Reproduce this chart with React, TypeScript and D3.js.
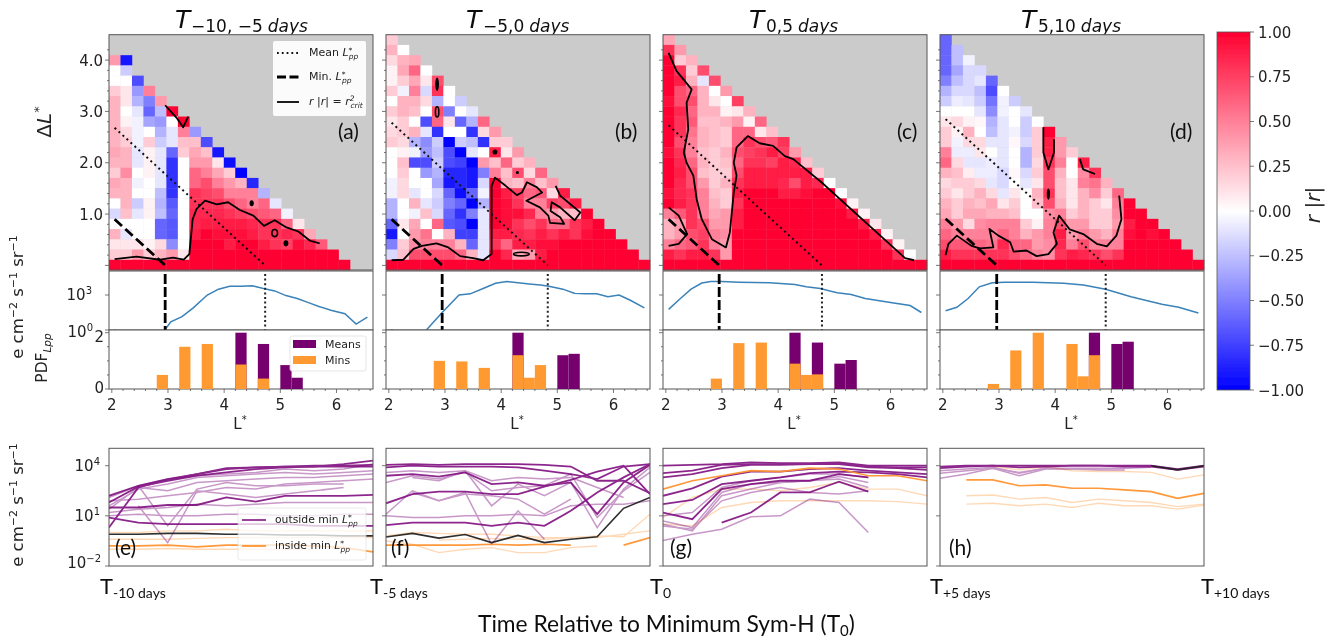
import React from "react";
import * as d3 from "d3";

const heatA: number[][] = [
  [4,0,0,2,3,3,3,3,3,3.5,3,2,3.5,3,0,-1.5,0,3,1,2,10],
  [-9,-2,0,1,1,0,0.5,1.5,2,3,3,4.5,3,3,3,2.5,0,-1,1,2,10],
  [-7,-4,-3,-1,-0.5,-0.5,-0.5,-1,-1,0,-0.5,0,-2,-1,0,0,1,4,10],
  [5,-5,-6,-3.5,0,2,0.5,0.5,0.5,0,0,0.5,0.5,0,0,0.5,2,10],
  [4,-2.5,-4,-3,-2,-1,-1,-1,-1,-2.5,-3,-2.5,-6,-6,1.5,3,10],
  [10,0,-1,-1,-6,-8,-8,-8,-8,-6.5,-6,-6.5,-6.5,-4.5,4,10],
  [10,5,2.5,2,0,0,0,0,0,0,0,0,0,1,10],
  [-4,2.5,3.5,4,6,6,8,8,8.5,8.5,9,10,10,10],
  [-7,2.5,4,5,7,7.5,8,8.5,9,10,10,10,10],
  [-9,1,3.5,5,7,8,8.5,9,9.5,10,10,10],
  [-9.5,2,4,5,7,8,9,9.5,9,10,10],
  [-10,3,5,6,7.5,9,9.5,10,10,10],
  [-8.5,5,5,7,8.5,9,10,10,10],
  [-3,6,6.5,8,8,9,10,10],
  [-1,6,8,8,8,10,10],
  [-0.5,6,8.5,7.5,10,10],
  [1,8,9.5,10,10],
  [3.5,8.5,10,10],
  [6.5,10,10],
  [10,10],
  [10],
];

const heatB: number[][] = [
  [2,3,1.5,0.5,0.5,2,0,2,1,1.5,2,0,0,0,-0.5,-0.5,-3,-3,-6,-9,-5,-1.5,10],
  [0,3,3.5,2,-0.5,3,3,2,2,1.5,0.5,2.5,2,1.5,1.5,0,0,1,0,2,2.5,10],
  [3.5,6,3.5,5,3,2.5,0,3,-3,-0.5,-7,0,0,-1,3,-0.5,3.5,4,4.5,7,10],
  [0,1,-1.5,1.5,0,-7,-1,-4.5,-4,-7,-4,0,0,-1,2.5,0,5.5,5,7,10],
  [7,8,-3,7,6,-8,-2,-2.5,-2,-3,-3.5,-1.5,-2,-1.5,6,0,5,7,10],
  [0,0,-5,1,0,-10,-7,-7,-8.5,-9,-6,-5,-6,-6.5,3,5,7,10],
  [-2,0,-6,0,-2,-10,-7.5,-8.5,-8.5,-9.5,-6,-8,-7,-7.5,3,6,10],
  [-1,-3,-8,-2.5,-1,-10,-9,-9,-6,-10,-5,-10,-7.5,-6,3,10],
  [6,1.5,-8,0,4,-5,-1.5,-0.5,-3,-1,-1,-1,-1,-1,10],
  [4,2,9,2.5,5,10,10,10,10,10,9,8,10,10],
  [2,1,6,2.5,3,9,9.5,9.5,9.5,9,6,8.5,10],
  [4,2,7,2.5,7.5,8,9.5,8,8.5,9,3.5,10],
  [3,1.5,5,6,5,8.5,7,8,9,4,10],
  [6,2.5,6.5,5,5,8,9,9.5,9,10],
  [4,1.5,7.5,4,6,8,9.5,10,10],
  [9,7,3,6,9,10,10,10],
  [9,2.5,8,8,10,10,10],
  [10,9,9.5,10,10,10],
  [10,10,10,10,10],
  [10,10,10,10],
  [10,10,10],
  [10,10],
  [10],
];

const heatC: number[][] = [
  [3.5,8,10,10,10,10,9.5,10,10,10,10,9.5,10,10,10,9.5,10,5,3,3,5,9,10],
  [4,2,8,9,7,7,8.5,8,8,7,8,8.5,9,8.5,8.5,9,6.5,4,4,6,8,10],
  [3,2,3,6,7,6,6.5,5.5,5,5,6,7,7,8,8,8,8,7,6.5,9,10],
  [7,-1,3,3,3,2.5,3,3,2.5,3,2.5,4,5,5,5,7,7.5,8,9,10],
  [7,0,1,3,2.5,2.5,2.5,2,2,2,2,2.5,3,3.5,4,5,5,8,10],
  [4,0,0.5,3,2,2,3,2.5,2,3,2,2,4,4,4.5,4,4,10],
  [7.5,1,4,6,6,7,6,7,8,9,8,9,9,10,10,10,10],
  [3,0.5,6,8,7.5,8,9,9,10,10,10,10,10,10,10,10],
  [6,1,7,8,8,9,9,10,10,10,10,10,10,10,10],
  [2.5,6.5,9,7.5,9,9,10,10,10,10,10,10,10,10],
  [8,7.5,9,9,8.5,9,10,10,10,10,10,10,10],
  [4,8.5,9,7,9,10,10,10,10,10,10,10],
  [2.5,9,9,9.5,10,10,10,10,10,10,10],
  [2,8.5,10,10,10,10,10,10,10,10],
  [0,10,10,10,10,10,10,10,10],
  [0,9.5,10,10,10,10,10,10],
  [0.5,9,10,10,10,10,10],
  [0.5,9,10,10,10,10],
  [1,9,10,10,10],
  [0.5,8,10,10],
  [0.5,8,10],
  [0,10],
  [10],
];

const heatD: number[][] = [
  [-6,-6,-6,-6,-5,-3,-2,0,1,2,2,5,6,3,1.5,2,3,3.5,5,6,7,9,10],
  [-2.5,-2.5,-3.5,-2.5,-1.5,-0.7,0,1.5,0.5,-0.5,-0.7,1.5,2.5,2,1,2,2,4,5,6.5,8,10],
  [-0.5,-1.5,-1.5,-1.5,-1,0,0.5,3,1.5,-0.7,-1,0.7,2,2,3,3.5,1.5,5,6.5,8,10],
  [-1.5,-1,-2.5,-2,-1,0.3,0,1.5,1,-1,-0.7,1.5,3,2.5,3.5,4.5,5,6,8,10],
  [-6,-7,-5.5,-4.5,-3,-2.5,-1,0,-0.7,-0.7,-1,1.5,3.5,3,5,5,5.5,8,10],
  [0,-0.5,-0.5,-1,-1,-1,-1,-1,-1.5,-1.5,-1,1,3,5,6,8.5,8,10],
  [-2,0,0,-0.5,0.3,0,0,0.3,0,1,2,2.5,5,5,6,7,10],
  [-1,-2,-2,-1.5,-3,-3,-1.5,-1,0,0,0,2,3,6,6,10],
  [0,2,2,2,1.5,2,1,3,2.5,0,0.5,4,4,5,10],
  [10,9,9,8,7,7,8,7,4.5,5,5,4.5,4.5,10],
  [4,4,5,3,2.5,2.5,3,5,7,9,8.5,8,10],
  [2,0,0,1,1,1,2,4,4,5,9,10],
  [9,4.5,5,3,3,3,4,5,7,8.5,10],
  [8,5.5,4.5,2,2,2,4,5,8,10],
  [3,2,1,2,2,3,5,7,10],
  [6,5,4.5,4,5,5,8,10],
  [10,10,9,9.5,10,10,10],
  [10,10,10,10,10,10],
  [10,9.5,10,10,10],
  [10,10,10,10],
  [10,10,10],
  [10,10],
  [10],
];

const contourA1 = [[2.05,.12],[2.44,.17],[2.86,.11],[3.09,.15],[3.28,.11],[3.38,.22],[3.44,.90],[3.51,1.10],[3.66,1.26],[3.87,1.19],[4.07,1.23],[4.28,1.08],[4.52,.97],[4.71,.77],[4.90,.88],[5.11,.74],[5.32,.66],[5.53,.48],[5.70,.43]];
const contourA2 = [[2.95,3.12],[3.15,2.88],[3.27,2.69],[3.36,2.90]];
const contourB1 = [[2.05,.10],[2.26,.11],[2.44,.32],[2.59,.38],[2.85,.43],[3.06,.35],[3.27,.18],[3.50,.14],[3.68,.10],[3.83,.22],[3.83,1.55],[3.89,1.71],[4.07,1.56],[4.28,1.37],[4.37,1.42],[4.46,1.62],[4.64,1.52],[4.73,1.42],[4.45,1.26],[4.69,1.13],[4.84,.97],[4.87,.83],[5.12,.81],[5.05,.94],[4.88,1.06],[4.90,1.23],[5.05,1.13],[5.31,.88],[5.41,1.03],[5.16,1.26],[5.05,1.36],[4.97,1.55]];
const contourC1 = [[2.05,4.14],[2.19,3.79],[2.46,3.43],[2.37,3.17],[2.40,2.65],[2.32,2.20],[2.37,2.0],[2.49,1.75],[2.55,1.29],[2.64,.90],[2.82,.51],[3.07,.35],[3.14,.64],[3.21,1.42],[3.26,1.75],[3.21,2.0],[3.26,2.30],[3.46,2.52],[3.67,2.38],[3.91,2.33],[4.12,2.13],[4.27,2.07],[4.77,1.62],[6.26,.14],[6.42,.10]];
const contourC2 = [[2.05,1.13],[2.23,.97],[2.38,.61],[2.23,.42],[2.05,.38]];
const contourD1 = [[2.05,.20],[2.10,.42],[2.25,.58],[2.51,.38],[2.66,.33],[2.90,.35],[2.83,.71],[2.99,.58],[3.20,.45],[3.26,.27],[3.49,.29],[3.67,.18],[3.88,.22],[4.03,.42],[3.97,.64],[4.07,.97],[4.26,.70],[4.50,.61],[4.74,.42],[4.92,.37],[5.09,.58],[5.18,.90],[5.14,1.36]];
const contourD2 = [[3.79,2.69],[3.79,2.20],[3.88,1.87],[3.98,2.20],[3.98,2.46]];
const contourD3 = [[4.44,2.07],[4.50,1.87],[4.71,1.78]];

// [L, dL, half width, half height] of the small closed contours
const islandsFilledA = [[4.49,1.21,.02,.05],[5.10,.43,.025,.05]];
const islandsOpenA = [[4.90,.63,.05,.07]];
const islandsFilledB = [[2.86,3.53,.015,.12],[3.89,2.21,.025,.04],[4.29,1.81,.01,.02]];
const islandsOpenB = [[2.86,2.99,.03,.1],[4.36,.22,.14,.035]];
const islandsFilledD = [[3.88,1.39,.012,.1]];

const lppMean = [4.73, 4.83, 4.78, 4.9];
const lppMin = [2.95, 2.95, 2.95, 2.96];

const fluxA = [[2.05,.05],[2.1,-.2],[2.9,-.2],[2.95,.05],[3.05,.7],[3.25,1.15],[3.45,1.9],[3.7,3.0],[3.9,3.5],[4.1,3.75],[4.3,3.75],[4.5,3.8],[4.7,3.55],[4.9,3.35],[5.1,2.95],[5.3,2.7],[5.5,2.35],[5.7,2.0],[5.9,1.7],[6.15,1.4],[6.35,.5],[6.55,1.1]];
const fluxB = [[2.05,.05],[2.1,-.2],[2.65,-.1],[2.95,1.5],[3.25,3.0],[3.45,3.1],[3.7,3.6],[3.9,4.0],[4.1,4.15],[4.3,4.05],[4.5,3.95],[4.7,3.85],[4.85,3.75],[5.1,3.5],[5.3,3.15],[5.5,3.1],[5.7,3.1],[5.9,2.85],[6.1,3.0],[6.3,2.55],[6.55,1.9]];
const fluxC = [[2.05,1.77],[2.26,2.7],[2.45,3.5],[2.64,4.03],[2.8,4.15],[3,4.15],[3.3,4.1],[3.85,4.05],[4.3,3.9],[4.5,3.7],[4.75,3.55],[5.05,3.2],[5.3,3.05],[5.55,2.7],[6,2.35],[6.35,2.1],[6.55,1.5]];
const fluxD = [[2.05,1.65],[2.25,1.95],[2.45,2.7],[2.65,3.7],[2.88,4.05],[3.1,4.1],[3.6,4.1],[4.15,4.0],[4.5,3.85],[4.9,3.5],[5.35,2.85],[5.9,2.2],[6.2,1.95],[6.55,1.45]];

// [bin start, density]
const meansA = [[4.2,2],[4.6,1.6],[5.0,.85],[5.2,.4]];
const minsA = [[2.8,.5],[3.2,1.5],[3.6,1.6],[4.2,.87],[4.6,.37]];
const meansB = [[4.2,2],[5.0,1.2],[5.2,1.25]];
const minsB = [[2.8,1],[3.2,.98],[3.6,.75],[4.2,1.2],[4.4,.4],[4.6,.85]];
const meansC = [[4.2,2],[4.6,1.65],[5.0,.9],[5.2,1.03]];
const minsC = [[2.8,.37],[3.2,1.63],[3.6,1.65],[4.2,.9],[4.4,.5],[4.6,.52]];
const meansD = [[4.6,2],[5.0,1.6],[5.2,1.68]];
const minsD = [[2.8,.18],[3.2,1.37],[3.6,2],[4.2,1.6],[4.4,.45],[4.6,1.2]];

// log10 flux per time step
const purpleStrongE = [
  [2.2,2.8,3.2,3.5,3.85,3.9,3.95,4.0,4.0,4.05],
  [1.8,2.75,3.1,3.4,3.6,3.8,3.9,3.95,4.1,4.3],
  [.3,2.7,3.15,3.5,3.8,3.9,3.95,3.95,3.95,3.95],
  [1.5,1.5,1.65,1.65,2.1,1.85,2.2,2.2,2.2,2.25],
  [.9,.6,.5,.5,.5,.5,.5,.4,.4,.4],
];
const purpleMidE = [
  [2.1,2.8,3.2,3.4,3.5,3.6,3.8,3.7,3.8,4.1],
  [1.6,2.6,2.9,3.3,3.4,3.5,3.6,3.5,3.6,3.7],
  [1.4,2.7,2.5,3.0,3.1,3.2,3.3,3.3,3.4,3.5],
  [null,2.8,.4,2.6,3.0,2.8,2.8,2.9,2.9,null],
  [null,1.6,-.6,2.5,2.3,2.1,2.3,2.5,2.7,null],
  [1.9,2.0,2.2,2.4,2.7,2.6,2.9,3.0,3.1,3.2],
  [1.2,1.4,1.5,1.7,1.6,1.7,1.8,1.8,1.8,1.8],
  [1.0,1.1,1.0,1.0,1.1,1.1,1.0,1.0,1.1,1.1],
];
const orangeStrongE = [[-.8,-.8,-.75,-.85,-.75,-.75,-.75,-.8,-.9,-1.15]];
const orangePaleE = [[-.4,-.4,-.4,-.35,-.3,-.3,-.3,-.3,-.3,-.3],[-1,-1,-.95,-1,-1,-1,-1,-1,null,null],[0,0,.1,.1,.2,.1,.1,.1,.1,.1]];
const blackE = [[-.1,-.1,-.05,-.05,-.1,-.1,-.15,-.15,-.2,-.2]];

const purpleStrongF = [
  [4.05,4.1,4.05,4.1,4.1,4.1,4.05,3.95,3.1,3.1,2.35],
  [3.9,4.0,3.95,3.95,3.95,3.9,3.7,3.5,3.2,3.95,4.1],
  [3.4,3.5,3.35,3.6,2.9,3.0,2.8,3.0,1.1,3.0,4.05],
  [1.75,2.3,2.45,2.45,2.3,2.3,2.75,3.15,3.65,4.0,2.3],
  [.45,.6,.6,.6,.4,.6,.4,1.3,2.4,3.3,4.1],
];
const purpleMidF = [
  [3.0,3.4,3.2,3.6,2.5,2.7,2.8,3.5,.9,2.5,3.6],
  [null,3.3,3.1,3.7,1.6,2.9,2.2,3.0,.3,2.6,3.9],
  [1.1,2.5,1.9,2.3,2.2,2.0,1.1,2.0,null,null,null],
  [1.0,.9,.9,1.0,1.0,1.1,1.0,1.6,1.7,1.7,1.9],
  [null,2.4,1.9,2.4,-.7,1.3,-.4,null,null,null,null],
  [3.6,3.7,3.6,3.7,3.1,3.3,3.2,3.3,2.7,2.1,null],
];
const orangeStrongF = [[-.75,-.75,-.75,-.75,-.7,-.75,-.7,-.75,null,-.75,-.3]];
const orangePaleF = [[-.2,0,-.05,-.1,-.1,-.2,-.3,-.3,-.2,-.25,1.1],[-.5,-.7,-1.2,-1,-.9,-1.2,-1.2,-.9,-.8,null,null],[null,null,-.45,-.4,-.35,-.4,-.4,-.3,-.3,-.1,.1]];
const blackF = [[-.27,-.05,-.33,-.12,-.6,-.17,-.6,-.4,-.25,1.45,2.1]];

const purpleStrongG = [
  [4.0,4.05,4.1,4.2,4.15,4.15,4.2,4.0,4.0,4.0],
  [3.55,3.7,4.05,4.1,4.1,4.1,4.15,3.95,3.9,3.9],
  [3.3,3.5,3.85,4.05,4.05,4.1,4.1,3.9,3.85,3.75],
  [2.2,2.65,3.35,3.65,3.65,3.8,3.85,3.7,3.6,3.5],
  [1.7,1.95,2.9,3.1,3.3,3.55,3.65,3.6,3.5,3.3],
  [1.2,.8,2.6,2.9,3.1,3.1,3.5,3.3,null,null],
  [null,null,.6,1.2,2.4,2.4,3.05,2.45,null,null],
];
const purpleMidG = [
  [.7,.3,2.4,2.9,3.0,3.1,3.35,3.0,null,null],
  [.5,.1,2.2,2.6,3.0,3.1,3.2,2.7,null,null],
  [1.0,1.2,2.7,3.1,3.3,3.5,3.5,3.3,null,null],
  [.4,.2,1.9,2.4,2.7,2.4,2.3,2.5,null,null],
  [-.47,-.1,.2,.95,1.0,2.0,1.8,0,null,null],
];
const orangeStrongG = [[2.6,3.1,3.4,3.7,3.65,3.85,3.8,3.4,3.4,3.1]];
const orangePaleG = [[.9,2.1,2.6,2.6,2.5,2.7,3.0,2.6,2.6,2.2],[.5,.4,1.5,1.8,1.9,1.9,1.9,1.9,1.85,1.7]];
const blackG: number[][] = [];

const purpleStrongH = [
  [3.95,4.0,4.0,4.0,4.0,4.0,4.0,4.0,4.0,3.8,4.0],
  [3.85,3.95,4.0,3.9,3.95,4.0,4.0,3.95,3.95,3.75,3.95],
];
const purpleMidH = [
  [3.7,3.8,3.9,3.55,3.85,3.8,3.75,3.75,null,null,null],
  [3.55,3.7,3.85,3.4,3.8,3.8,3.8,3.85,3.9,null,null],
  [3.25,3.5,3.85,3.6,3.85,3.85,3.85,3.85,null,null,null],
];
const orangeStrongH = [[null,3.15,3.15,2.8,2.85,2.65,2.65,2.55,2.45,2.05,2.35]];
const orangePaleH = [[null,2.2,2.25,2.0,2.1,1.8,2.0,1.9,1.8,1.55,1.7],[null,1.7,1.75,1.6,1.7,1.5,1.75,1.6,1.6,1.4,1.65],[null,null,3.95,3.75,3.95,3.7,3.65,3.65,3.6,3.2,3.45]];
const blackH = [[null,null,null,null,null,null,null,null,4.0,3.75,4.0]];

const heatTicks = [1, 2, 3, 4];
const lTicks = [2, 3, 4, 5, 6];
const cbarTicks = [1, .75, .5, .25, 0, -.25, -.5, -.75, -1];
const titleSubs = ["−10, −5", "−5,0", "0,5", "5,10"];
const panelLetters = ["(a)", "(b)", "(c)", "(d)"];
const lowLetters = ["(e)", "(f)", "(g)", "(h)"];
const timeLabels = ["-10 days", "-5 days", "0", "+5 days", "+10 days"];

const PANELS = [
  { left: 109, titleX: 175, subX: 191, letterX: 338, lowLetterX: 115, heat: heatA, contours: [contourA1, contourA2], filled: islandsFilledA, open: islandsOpenA, flux: fluxA, means: meansA, mins: minsA, pS: purpleStrongE, pM: purpleMidE, oS: orangeStrongE, oP: orangePaleE, bk: blackE },
  { left: 386, titleX: 466, subX: 483, letterX: 615, lowLetterX: 391, heat: heatB, contours: [contourB1], filled: islandsFilledB, open: islandsOpenB, flux: fluxB, means: meansB, mins: minsB, pS: purpleStrongF, pM: purpleMidF, oS: orangeStrongF, oP: orangePaleF, bk: blackF },
  { left: 663, titleX: 749, subX: 766, letterX: 897, lowLetterX: 670, heat: heatC, contours: [contourC1, contourC2], filled: [], open: [], flux: fluxC, means: meansC, mins: minsC, pS: purpleStrongG, pM: purpleMidG, oS: orangeStrongG, oP: orangePaleG, bk: blackG },
  { left: 940, titleX: 1021, subX: 1038, letterX: 1170, lowLetterX: 949, heat: heatD, contours: [contourD1, contourD2, contourD3], filled: islandsFilledD, open: [], flux: fluxD, means: meansD, mins: minsD, pS: purpleStrongH, pM: purpleMidH, oS: orangeStrongH, oP: orangePaleH, bk: blackH },
];

const W = 264;
const HEAT_TOP = 34.7, HEAT_BOT = 270;
const LINE_TOP = 271, LINE_BOT = 330, HIST_BOT = 389, LOW_TOP = 448.3, LOW_BOT = 566;
const SPINE = "#555";
const SANS = "'DejaVu Sans', sans-serif";
const HUMAN = "Lato, 'Open Sans', sans-serif";
const PURPLE = "#7d0a7d";
const ORANGE = "#ff9430";

const color = d3.scaleLinear<string>().domain([-1, 0, 1]).range(["#0000ff", "#ffffff", "#ff0030"]);
const xL = d3.scaleLinear().domain([1.95, 6.65]).range([0, W]);
const yD = d3.scaleLinear().domain([-0.09, 4.495]).range([HEAT_BOT, HEAT_TOP]);
const yFlux = d3.scaleLinear().domain([0, 3]).range([LINE_BOT, 295]);
const yHist = d3.scaleLinear().domain([0, 2]).range([HIST_BOT, 332.7]);
const yLow = d3.scaleLinear().domain([-2, 4]).range([LOW_BOT, 465.7]);
const cbar = d3.scaleLinear().domain([-1, 1]).range([390, 32]);
const colBand = d3.scaleBand<number>().domain(d3.range(23)).range([0, W]);
const rowBand = d3.scaleBand<number>().domain(d3.range(23)).range([HEAT_BOT, HEAT_TOP]);

const path = d3.line<number[]>().x((d) => xL(d[0])).y((d) => yD(d[1]));
const fluxPath = d3.line<number[]>().x((d) => xL(d[0])).y((d) => yFlux(d[1]));

function Flux({ x, y }: { x: number; y: number }) {
  return (
    <text transform={`translate(${x},${y}) rotate(-90)`} textAnchor="middle" fontFamily={SANS} fontSize={16.5} fill="#222">
      e cm<tspan dy={-6} fontSize={11}>−2</tspan><tspan dy={6}> s</tspan><tspan dy={-6} fontSize={11}>−1</tspan><tspan dy={6}> sr</tspan><tspan dy={-6} fontSize={11}>−1</tspan>
    </text>
  );
}

function LogLabel({ x, y, exp }: { x: number; y: number; exp: string }) {
  return (
    <text x={x} y={y + 5} textAnchor="end" fontFamily={SANS} fontSize={15} fill="#222">
      10<tspan dy={-6} fontSize={10}>{exp}</tspan>
    </text>
  );
}

function LowLines({ rows, stroke, width, opacity, left }: { rows: (number | null)[][]; stroke: string; width: number; opacity: number; left: number }) {
  return (
    <g fill="none" stroke={stroke} strokeWidth={width} opacity={opacity}>
      {rows.map((row, i) => {
        const x = d3.scaleLinear().domain([0, row.length - 1]).range([left, left + W]);
        const ln = d3.line<number | null>().defined((v) => v !== null).x((_, j) => x(j)).y((v) => yLow(v as number));
        return <path key={i} d={ln(row) || ""} />;
      })}
    </g>
  );
}

function Panel({ p, index }: { p: (typeof PANELS)[number]; index: number }) {
  const left = p.left;
  const id = `c${index}`;
  const mean = lppMean[index], min = lppMin[index];
  const labelled = index === 0;
  return (
    <g>
      {/* title */}
      <text x={p.titleX} y={28} fontFamily={SANS} fontSize={25} fontStyle="italic" fill="#111">T</text>
      <text x={p.subX} y={32} fontFamily={SANS} fontSize={17} fill="#111">
        {titleSubs[index]}<tspan dx={5} fontStyle="italic">days</tspan>
      </text>

      <clipPath id={`${id}b`}><rect x={left} y={LINE_TOP} width={W} height={LINE_BOT - LINE_TOP} /></clipPath>
      <clipPath id={`${id}c`}><rect x={left} y={LOW_TOP} width={W} height={LOW_BOT - LOW_TOP} /></clipPath>

      {/* heat map */}
      <rect x={left} y={HEAT_TOP} width={W} height={HEAT_BOT - HEAT_TOP} fill="#cbcbcb" />
      {p.heat.map((col, k) =>
        col.map((v, i) => {
          const r = col.length - 1 - i;
          return (
            <rect key={`${k}-${i}`} x={left + (colBand(k) as number)} y={rowBand(r) as number}
              width={colBand.bandwidth() + 0.3} height={rowBand.bandwidth() + 0.3} fill={color(v / 10)} />
          );
        })
      )}
      <g transform={`translate(${left},0)`}>
        <line x1={xL(2.05)} x2={xL(mean)} y1={yD(mean - 2.05)} y2={yD(0)} stroke="#111" strokeWidth={2} strokeDasharray="2 3.4" />
        <line x1={xL(2.05)} x2={xL(min)} y1={yD(min - 2.05)} y2={yD(0)} stroke="#000" strokeWidth={2.8} strokeDasharray="10 4.5" />
        {p.contours.map((c, i) => (
          <path key={i} d={path(c) || ""} fill="none" stroke="#000" strokeWidth={1.8} strokeLinejoin="round" />
        ))}
        {p.filled.map((d, i) => (
          <ellipse key={i} cx={xL(d[0])} cy={yD(d[1])} rx={xL(d[0] + d[2]) - xL(d[0]) + 1} ry={yD(d[1] - d[3]) - yD(d[1]) + 0.5} fill="#000" />
        ))}
        {p.open.map((d, i) => (
          <ellipse key={i} cx={xL(d[0])} cy={yD(d[1])} rx={xL(d[0] + d[2]) - xL(d[0])} ry={yD(d[1] - d[3]) - yD(d[1])} fill="none" stroke="#000" strokeWidth={1.6} />
        ))}
      </g>
      <rect x={left} y={HEAT_TOP} width={W} height={HEAT_BOT - HEAT_TOP} fill="none" stroke={SPINE} strokeWidth={1} />
      {d3.range(0, 4.4, 0.2).map((v) => (
        <line key={v} x1={left - (Math.abs(v % 1) < 0.01 || Math.abs(v % 1) > 0.99 ? 4 : 2)} x2={left} y1={yD(v)} y2={yD(v)} stroke={SPINE} strokeWidth={0.8} />
      ))}
      {labelled && heatTicks.map((v) => (
        <text key={v} x={left - 6} y={yD(v) + 5.5} textAnchor="end" fontFamily={SANS} fontSize={15} fill="#222">{v.toFixed(1)}</text>
      ))}
      <text x={p.letterX} y={139} fontFamily={HUMAN} fontSize={21} fill="#111">{panelLetters[index]}</text>

      {/* flux profile */}
      <rect x={left} y={LINE_TOP} width={W} height={LINE_BOT - LINE_TOP} fill="#fff" stroke={SPINE} strokeWidth={1} />
      <g clipPath={`url(#${id}b)`}>
        <path transform={`translate(${left},0)`} d={fluxPath(p.flux) || ""} fill="none" stroke="#3a82b8" strokeWidth={1.5} />
      </g>
      <line x1={left + xL(min)} x2={left + xL(min)} y1={274} y2={LINE_BOT} stroke="#000" strokeWidth={2.8} strokeDasharray="10 3" />
      <line x1={left + xL(mean)} x2={left + xL(mean)} y1={274} y2={LINE_BOT} stroke="#222" strokeWidth={2} strokeDasharray="2 2.6" />
      {[0, 3].map((v) => <line key={v} x1={left - 4} x2={left} y1={yFlux(v)} y2={yFlux(v)} stroke={SPINE} strokeWidth={0.8} />)}
      {labelled && (<g><LogLabel x={92} y={295} exp="3" /><LogLabel x={93} y={332} exp="0" /></g>)}

      {/* histogram */}
      <rect x={left} y={LINE_BOT} width={W} height={HIST_BOT - LINE_BOT} fill="#fff" stroke={SPINE} strokeWidth={1} />
      {p.means.map((d, i) => (
        <rect key={i} x={left + xL(d[0])} width={xL(d[0] + .2) - xL(d[0])} y={yHist(d[1])} height={HIST_BOT - yHist(d[1])} fill="#76056e" />
      ))}
      {p.mins.map((d, i) => (
        <rect key={i} x={left + xL(d[0])} width={xL(d[0] + .2) - xL(d[0])} y={yHist(d[1])} height={HIST_BOT - yHist(d[1])} fill="#ff9a33" />
      ))}
      {d3.range(0, 2.01, 0.5).map((v) => (
        <line key={v} x1={left - (v % 2 === 0 ? 4 : 2)} x2={left} y1={yHist(v)} y2={yHist(v)} stroke={SPINE} strokeWidth={0.8} />
      ))}
      {d3.range(2, 6.61, 0.2).map((v) => {
        const major = Math.abs(v - Math.round(v)) < 0.01;
        return <line key={v} x1={left + xL(v)} x2={left + xL(v)} y1={HIST_BOT} y2={HIST_BOT + (major ? 4 : 2)} stroke={SPINE} strokeWidth={0.8} />;
      })}
      {lTicks.map((v) => (
        <text key={v} x={left + xL(v)} y={410} textAnchor="middle" fontFamily={SANS} fontSize={15} fill="#222">{v}</text>
      ))}
      <text x={left + W / 2 - 1} y={429} textAnchor="middle" fontFamily={SANS} fontSize={15} fill="#222">L<tspan dy={-6} fontSize={10}>*</tspan></text>
      {labelled && (
        <g fontFamily={SANS} fontSize={15} fill="#222" textAnchor="end">
          <text x={104} y={393}>0</text>
          <text x={104} y={342}>2</text>
        </g>
      )}

      {/* flux time series */}
      <rect x={left} y={LOW_TOP} width={W} height={LOW_BOT - LOW_TOP} fill="#fff" />
      <g clipPath={`url(#${id}c)`}>
        <LowLines rows={p.oP} stroke={ORANGE} width={1.4} opacity={0.35} left={left} />
        <LowLines rows={p.pM} stroke={PURPLE} width={1.5} opacity={0.42} left={left} />
        <LowLines rows={p.pS} stroke={PURPLE} width={1.8} opacity={0.88} left={left} />
        <LowLines rows={p.oS} stroke={ORANGE} width={1.7} opacity={0.95} left={left} />
        <LowLines rows={p.bk} stroke="#222" width={1.6} opacity={0.95} left={left} />
      </g>
      <rect x={left} y={LOW_TOP} width={W} height={LOW_BOT - LOW_TOP} fill="none" stroke={SPINE} strokeWidth={1} />
      {[-2, 1, 4].map((v) => <line key={v} x1={left - 4} x2={left} y1={yLow(v)} y2={yLow(v)} stroke={SPINE} strokeWidth={0.8} />)}
      {labelled && (<g><LogLabel x={100} y={466} exp="4" /><LogLabel x={100} y={516} exp="1" /><LogLabel x={101} y={563} exp="−2" /></g>)}
      <text x={p.lowLetterX} y={555} fontFamily={HUMAN} fontSize={21} fill="#111">{lowLetters[index]}</text>
    </g>
  );
}

export default function App() {
  React.useEffect(() => { document.body.style.margin = "0"; }, []);
  const stops = d3.range(0, 1.001, 0.05);
  return (
    <svg width={1334} height={640} viewBox="0 0 1334 640" style={{ position: "absolute", left: 0, top: 0, background: "#fff" }}>
      <defs>
        <filter id="soft" x="0" y="0" width="1334" height="640" filterUnits="userSpaceOnUse">
          <feGaussianBlur stdDeviation="0.45" />
        </filter>
        <linearGradient id="cb" x1="0" y1="1" x2="0" y2="0">
          {stops.map((s) => <stop key={s} offset={s} stopColor={color(s * 2 - 1)} />)}
        </linearGradient>
      </defs>
      <rect width={1334} height={640} fill="#fff" />
      <g filter="url(#soft)">
        {PANELS.map((p, i) => <Panel key={i} p={p} index={i} />)}

        {/* top legend */}
        <g>
          <rect x={273} y={41} width={93} height={75} rx={2} fill="#fff" opacity={0.92} />
          <line x1={277} x2={299} y1={53} y2={53} stroke="#111" strokeWidth={1.8} strokeDasharray="1.8 3" />
          <line x1={277} x2={299} y1={77} y2={77} stroke="#000" strokeWidth={2.8} strokeDasharray="9 3.5" />
          <line x1={277} x2={299} y1={102} y2={102} stroke="#000" strokeWidth={1.8} />
          <text fontFamily={SANS} fontSize={11} fill="#222">
            <tspan x={309} y={56}>Mean </tspan><tspan fontStyle="italic" dy={0}>L</tspan><tspan fontSize={7.5} dy={-3.5}>*</tspan><tspan fontSize={7.5} dx={-3.5} dy={6} fontStyle="italic">pp</tspan>
          </text>
          <text fontFamily={SANS} fontSize={11} fill="#222">
            <tspan x={309} y={80}>Min. </tspan><tspan fontStyle="italic">L</tspan><tspan fontSize={7.5} dy={-3.5}>*</tspan><tspan fontSize={7.5} dx={-3.5} dy={6} fontStyle="italic">pp</tspan>
          </text>
          <text x={309} y={105} fontFamily={SANS} fontSize={11} fontStyle="italic" fill="#222">
            r |r| = r<tspan fontSize={7.5} dy={-4}>2</tspan><tspan fontSize={7.5} dx={-4} dy={7}>crit</tspan>
          </text>
        </g>

        {/* histogram legend */}
        <g>
          <rect x={290} y={336} width={76} height={35} rx={2} fill="#fff" stroke="#ddd" strokeWidth={0.8} opacity={0.92} />
          <rect x={293} y={340} width={23} height={8} fill="#76056e" />
          <rect x={293} y={356} width={23} height={8} fill="#ff9a33" />
          <text x={325} y={348} fontFamily={SANS} fontSize={11} fill="#222">Means</text>
          <text x={325} y={364} fontFamily={SANS} fontSize={11} fill="#222">Mins</text>
        </g>

        {/* lower legend */}
        <g>
          <rect x={238} y={508} width={128} height={52} rx={2} fill="#fff" stroke="#ddd" strokeWidth={0.8} opacity={0.75} />
          <line x1={242} x2={266} y1={520} y2={520} stroke={PURPLE} strokeWidth={1.8} opacity={0.85} />
          <line x1={242} x2={266} y1={546} y2={546} stroke={ORANGE} strokeWidth={1.8} />
          <text fontFamily={SANS} fontSize={10.8} fill="#222">
            <tspan x={275} y={523}>outside min </tspan><tspan fontStyle="italic">L</tspan><tspan fontSize={7.5} dy={-3.5}>*</tspan><tspan fontSize={7.5} dx={-3.5} dy={6} fontStyle="italic">pp</tspan>
          </text>
          <text fontFamily={SANS} fontSize={10.8} fill="#222">
            <tspan x={275} y={549}>inside min </tspan><tspan fontStyle="italic">L</tspan><tspan fontSize={7.5} dy={-3.5}>*</tspan><tspan fontSize={7.5} dx={-3.5} dy={6} fontStyle="italic">pp</tspan>
          </text>
        </g>

        {/* colour bar */}
        <rect x={1217} y={32} width={33} height={358} fill="url(#cb)" stroke={SPINE} strokeWidth={0.8} />
        {cbarTicks.map((v) => (
          <g key={v}>
            <line x1={1250} x2={1254} y1={cbar(v)} y2={cbar(v)} stroke={SPINE} strokeWidth={0.8} />
            <text x={1258} y={cbar(v) + 5.5} fontFamily={SANS} fontSize={15} fill="#222">{v < 0 ? `−${Math.abs(v).toFixed(2)}` : v.toFixed(2)}</text>
          </g>
        ))}
        <text transform="translate(1320,205) rotate(-90)" textAnchor="middle" fontFamily={SANS} fontSize={20} fontStyle="italic" fill="#222">r |r|</text>

        {/* axis labels */}
        <text transform="translate(51,122) rotate(-90)" textAnchor="middle" fontFamily={SANS} fontSize={20} fill="#222">
          Δ<tspan fontStyle="italic">L</tspan><tspan dy={-8} fontSize={13}>*</tspan>
        </text>
        <Flux x={23} y={297} />
        <Flux x={23} y={505} />
        <text transform="translate(47,358) rotate(-90)" textAnchor="middle" fontFamily={SANS} fontSize={15.5} fill="#222">
          PDF<tspan dy={4} fontSize={10.5} fontStyle="italic">Lpp</tspan>
        </text>
        {timeLabels.map((t, i) => {
          const xs = [100, 370, 650, 930, 1201];
          return (
            <text key={t} x={xs[i]} y={594} fontFamily={HUMAN} fontSize={22} fill="#111">
              T<tspan dy={4} fontSize={14}>{t}</tspan>
            </text>
          );
        })}
        <text x={478} y={632} fontFamily={HUMAN} fontSize={22.8} fill="#111">
          Time Relative to Minimum Sym-H (T<tspan dy={4} fontSize={15}>0</tspan><tspan dy={-4}>)</tspan>
        </text>
      </g>
    </svg>
  );
}
